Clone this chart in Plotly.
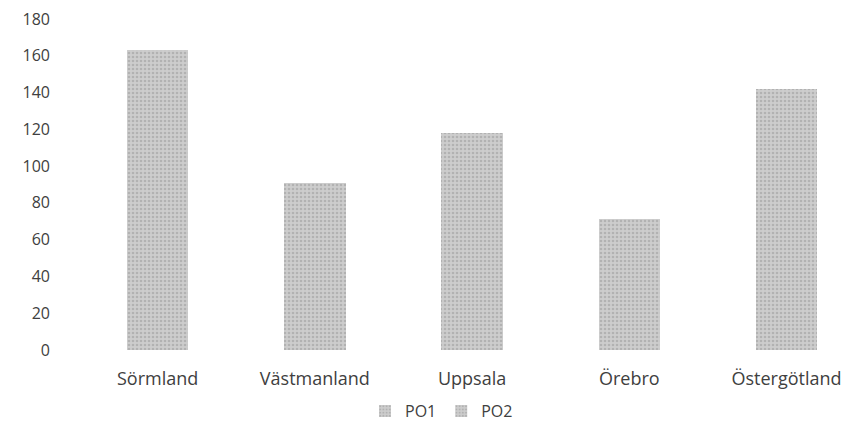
import plotly.graph_objects as go

# data (PO1/PO2 split is an estimate, totals are read)
regions = ["Sörmland", "Västmanland", "Uppsala", "Örebro", "Östergötland"]
po1 = [95, 50, 65, 40, 60]
po2 = [68, 41, 53, 31, 82]
y_ticks = [0, 20, 40, 60, 80, 100, 120, 140, 160, 180]

FONT = "'Open Sans', Lato, sans-serif"
TEXT = "#404040"

fig = go.Figure()
for name, vals in [("PO1", po1), ("PO2", po2)]:
    fig.add_trace(go.Bar(
        x=regions, y=vals, name=name,
        marker=dict(
            color="#c2c2c2",
            line=dict(width=0),
            pattern=dict(shape=".", fgcolor="#979797", bgcolor="#cdcdcd",
                         size=4, solidity=0.35),
        ),
    ))

# page body has an 8px margin, so everything is nudged up/left by that
fig.update_layout(
    barmode="stack",
    bargap=0.61,
    width=850, height=428,
    margin=dict(l=71, r=7, t=11, b=86, autoexpand=False),
    paper_bgcolor="white",
    plot_bgcolor="white",
    font=dict(family=FONT, size=16, color=TEXT),
    showlegend=True,
    legend=dict(orientation="h", traceorder="normal",
                xref="container", x=0.51, xanchor="center",
                yref="container", y=0.058, yanchor="middle",
                font=dict(size=16, color=TEXT), itemwidth=30),
    xaxis=dict(range=[-0.5, 4.41], showline=False, showgrid=False, ticks="",
               automargin=False, ticklabelstandoff=16,
               tickfont=dict(size=18)),
    yaxis=dict(range=[0, 180], tickvals=y_ticks, showgrid=False,
               zeroline=False, showline=False, ticks="", automargin=False,
               ticklabeloverflow="allow",
               ticklabelstandoff=28, tickfont=dict(size=16)),
)

fig.write_html("out.html")
